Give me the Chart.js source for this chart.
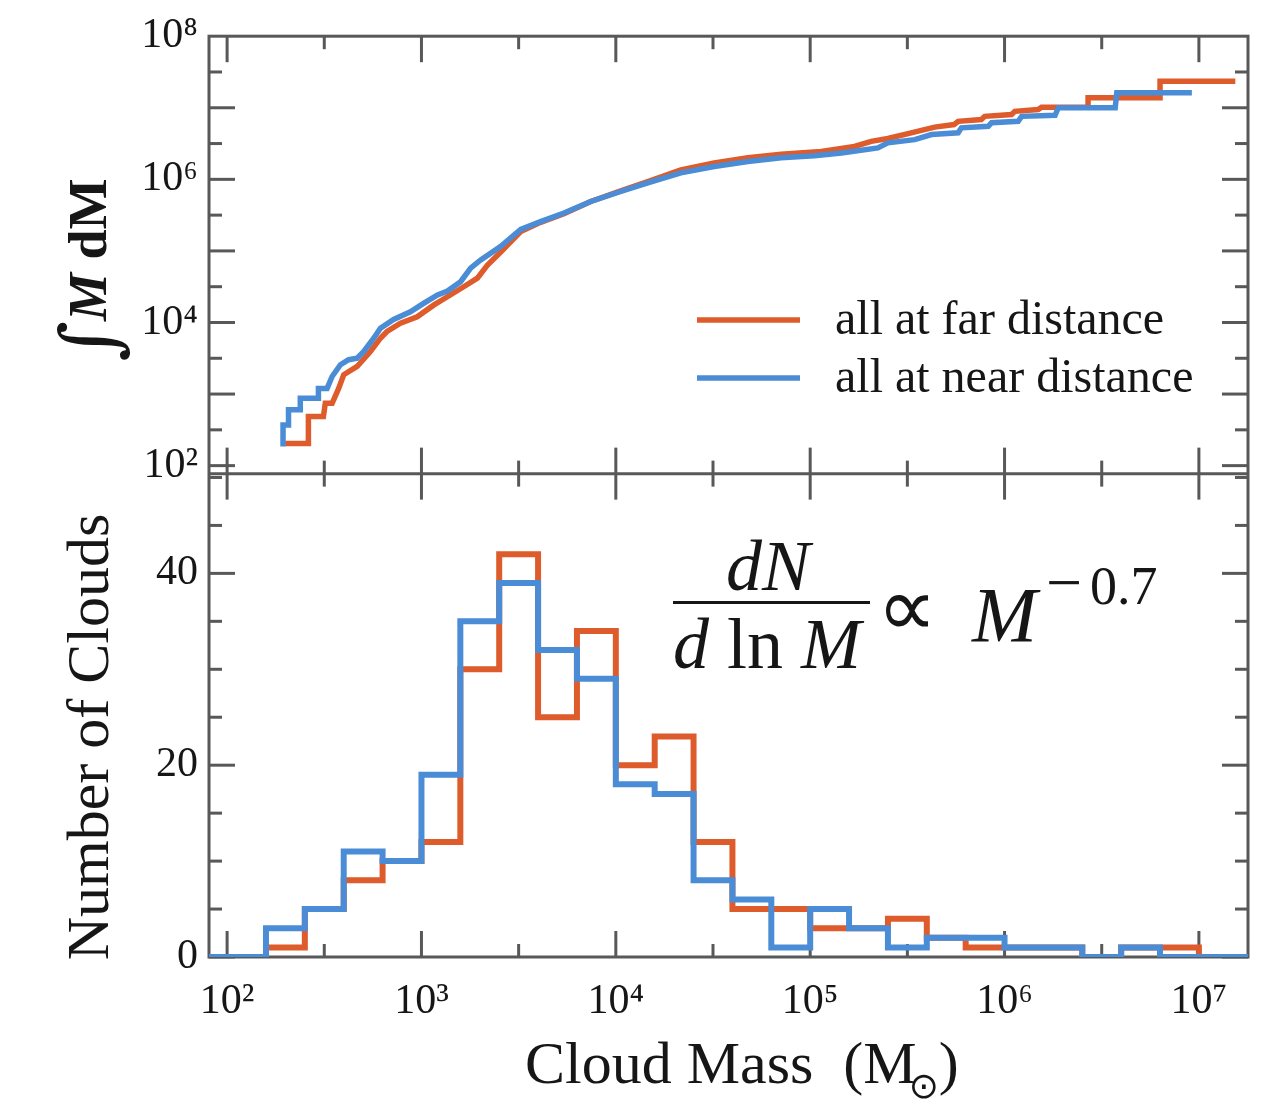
<!DOCTYPE html>
<html>
<head>
<meta charset="utf-8">
<script src="https://cdn.jsdelivr.net/npm/chart.js@4.4.0/dist/chart.umd.min.js"></script>
<style>
  html, body { margin: 0; padding: 0; background: #fff; }
  #grafico { display: block; }
</style>
</head>
<body>
<canvas id="grafico" width="1266" height="1099"></canvas>
<script>
const ctx = document.getElementById('grafico').getContext('2d');

// Curva acumulada (painel de cima) -----------------------------------------
// massa (M_sol) e integral acumulada

const nearMass = [194, 194, 207, 207, 238, 238, 295, 295, 327, 347, 383, 422, 467, 505, 568, 615,
  719, 877, 1030, 1210, 1360, 1590, 1790, 2010, 2550, 3240, 4100, 5410, 7430, 10600, 14600,
  21600, 32100, 47800, 71000, 105000, 145000, 223000, 251000, 345000, 421000, 577000, 600000,
  824000, 857000, 1175000, 1225000, 1820000, 1890000, 3710000, 3780000, 9200000]
const nearCum = [185, 371, 371, 603, 603, 871, 871, 1200, 1200, 1760, 2570, 3020, 3160, 3930, 6030, 8320,
  11000, 14100, 18600, 24300, 27500, 37200, 57500, 74100, 115000, 200000, 257000, 339000, 490000, 676000, 891000,
  1230000, 1510000, 1780000, 2000000, 2140000, 2340000, 2750000, 3240000, 3590000, 4220000, 4470000, 5250000,
  5500000, 6170000, 6460000, 7590000, 7850000, 10000000, 10000000, 16200000, 16200000]

const farMass = [199, 262, 262, 313, 320, 347, 375, 398, 467, 546, 615, 665, 780, 951, 1160, 1360,
  1650, 1940, 2180, 2550, 3240, 4100, 5410, 7430, 10600, 14600, 21600, 32100, 47800, 71000, 114000,
  169000, 206000, 251000, 331000, 437000, 550000, 577000, 759000, 791000, 1086000, 1130000, 1490000,
  1550000, 2690000, 2690000, 6310000, 6310000, 15400000]
const farCum = [204, 204, 484, 484, 741, 741, 1200, 1860, 2430, 3930, 6030, 7480, 9770, 12000, 17600, 22900,
  31600, 41700, 63100, 95500, 186000, 251000, 331000, 490000, 692000, 933000, 1350000, 1700000, 2000000, 2240000, 2450000,
  2880000, 3390000, 3720000, 4470000, 5370000, 5820000, 6460000, 6840000, 7590000, 8040000, 8910000, 9440000,
  10200000, 10200000, 13800000, 13800000, 23400000, 23400000]

// Histograma (painel de baixo) ---------------------------------------------
// bordas dos bins em log10(M), bins de 0.2 dex

const binLogEdges = [1.8, 2.0, 2.2, 2.4, 2.6, 2.8, 3.0, 3.2, 3.4, 3.6, 3.8, 4.0, 4.2, 4.4, 4.6,
  4.8, 5.0, 5.2, 5.4, 5.6, 5.8, 6.0, 6.2, 6.4, 6.6, 6.8, 7.0, 7.2, 7.4]
const nearCounts = [0, 0, 3, 5, 11, 10, 19, 35, 39, 32, 29, 18, 17, 8, 6, 1, 5, 3, 1, 2, 2, 1, 1, 0, 1, 0, 0, 0]
const farCounts  = [0, 0, 1, 5, 8, 10, 12, 30, 42, 25, 34, 20, 23, 12, 5, 5, 3, 3, 4, 2, 1, 1, 1, 0, 1, 1, 0, 0]

// Eixos ---------------------------------------------------------------------

const xMajor = [1e2, 1e3, 1e4, 1e5, 1e6, 1e7]
const xMinor = [10**2.5, 10**3.5, 10**4.5, 10**5.5, 10**6.5]
const yTopLabels = [1e2, 1e4, 1e6, 1e8]
const yTopMajor = [1e2, 1e3, 1e4, 1e5, 1e6, 1e7]
const yTopMinor = [10**2.5, 10**3.5, 10**4.5, 10**5.5, 10**6.5, 10**7.5]
const yBotLabels = [0, 20, 40]
const yBotMinor = [5, 10, 15, 25, 30, 35, 45, 50]

const laranja = '#DE5B2B'
const azul = '#4A8DD6'
const corEixo = '#585858'
const corTexto = '#161616'
const serif = '"Liberation Serif", "Times New Roman", serif'

const sup = {'2': '²', '3': '³', '4': '⁴', '5': '⁵', '6': '⁶', '7': '⁷', '8': '⁸'}
function potencia(v) {
  const e = Math.round(Math.log10(v)).toString()
  return '10' + sup[e]
}

function pontos(xs, ys) {
  return xs.map((x, i) => ({x: x, y: ys[i]}))
}

function degraus(counts) {
  const pts = counts.map((c, i) => ({x: 10 ** binLogEdges[i], y: c}))
  pts.push({x: 10 ** binLogEdges[binLogEdges.length - 1], y: counts[counts.length - 1]})
  return pts
}

// Moldura, ticks para dentro e textos ---------------------------------------

function linha(c, x1, y1, x2, y2) {
  c.beginPath(); c.moveTo(x1, y1); c.lineTo(x2, y2); c.stroke();
}

const moldura = {
  id: 'moldura',
  beforeDatasetsDraw(chart) {
    const c = chart.ctx
    const sx = chart.scales.x, yt = chart.scales.yTop, yb = chart.scales.yBot
    const L = sx.left, R = sx.right, T = yt.top, M = yt.bottom, B = yb.bottom
    const grande = 26, pequeno = 13
    c.save()
    c.strokeStyle = corEixo
    c.lineWidth = 3
    c.strokeRect(L, T, R - L, B - T)
    linha(c, L, M, R, M)

    const ticksX = xMajor.map(v => [v, grande]).concat(xMinor.map(v => [v, pequeno]))
    ticksX.forEach(([v, len]) => {
      const px = sx.getPixelForValue(v)
      linha(c, px, T, px, T + len)
      linha(c, px, M - len, px, M + len)
      linha(c, px, B, px, B - len)
    })
    const ticksTop = yTopMajor.map(v => [v, grande]).concat(yTopMinor.map(v => [v, pequeno]))
    ticksTop.forEach(([v, len]) => {
      const py = yt.getPixelForValue(v)
      linha(c, L, py, L + len, py)
      linha(c, R, py, R - len, py)
    })
    const ticksBot = yBotLabels.map(v => [v, grande]).concat(yBotMinor.map(v => [v, pequeno]))
    ticksBot.forEach(([v, len]) => {
      const py = yb.getPixelForValue(v)
      linha(c, L, py, L + len, py)
      linha(c, R, py, R - len, py)
    })
    c.restore()
  },
  afterDraw(chart) {
    const c = chart.ctx
    c.save()
    c.fillStyle = corTexto
    c.textBaseline = 'alphabetic'

    // legenda
    const itens = [[laranja, 'all at far distance', 320], [azul, 'all at near distance', 378]]
    itens.forEach(([cor, txt, y]) => {
      c.strokeStyle = cor
      c.lineWidth = 5.5
      linha(c, 697, y, 800, y)
      c.font = '48px ' + serif
      c.textAlign = 'left'
      c.fillText(txt, 835, y + 14)
    })

    // formula dN/dlnM ~ M^-0.7
    c.textAlign = 'center'
    c.font = 'italic 72px ' + serif
    c.fillText('dN', 768, 590)
    c.fillRect(673, 601, 197, 3)
    const partes = [['italic 72px ' + serif, 'd'], ['72px ' + serif, ' ln '], ['italic 72px ' + serif, 'M']]
    let larg = 0
    partes.forEach(([f, t]) => { c.font = f; larg += c.measureText(t).width })
    let px = 767 - larg / 2
    c.textAlign = 'left'
    partes.forEach(([f, t]) => { c.font = f; c.fillText(t, px, 668); px += c.measureText(t).width })
    c.font = '84px ' + serif
    c.textAlign = 'center'
    c.fillText('∝', 907, 636)
    c.textAlign = 'left'
    c.font = 'italic 78px ' + serif
    c.fillText('M', 972, 641)
    c.font = '64px ' + serif
    c.fillText('−', 1046, 604)
    c.font = '54px ' + serif
    c.fillText('0.7', 1090, 604)

    // titulo eixo x
    c.font = '60px ' + serif
    const t1 = 'Cloud Mass  (M'
    let x0 = 525
    c.fillText(t1, x0, 1083)
    x0 += c.measureText(t1).width
    c.font = '36px "DejaVu Sans"'
    c.fillText('⊙', x0 - 8, 1098)
    x0 += c.measureText('⊙').width - 8
    c.font = '60px ' + serif
    c.fillText(')', x0, 1083)

    // titulos eixo y
    c.save()
    c.translate(108, 737)
    c.rotate(-Math.PI / 2)
    c.textAlign = 'center'
    c.font = '60px ' + serif
    c.fillText('Number of Clouds', 0, 0)
    c.restore()

    c.save()
    c.translate(106, 270)
    c.rotate(-Math.PI / 2)
    c.textAlign = 'left'
    const tit = [['78px "DejaVu Serif"', '∫', 10], ['bold italic 54px ' + serif, 'M', 0], ['bold 54px ' + serif, ' dM', 0]]
    let w = 0
    tit.forEach(([f, t]) => { c.font = f; w += c.measureText(t).width })
    let u = -w / 2
    tit.forEach(([f, t, dy]) => { c.font = f; c.fillText(t, u, dy); u += c.measureText(t).width })
    c.restore()

    c.restore()
  }
}

// Grafico ---------------------------------------------------------------------

const fonteTicks = {family: serif, size: 42}

const data = {
  datasets: [
    {label: 'all at near distance', data: pontos(nearMass, nearCum), xAxisID: 'x', yAxisID: 'yTop',
      borderColor: azul, borderWidth: 5.5, pointRadius: 0, tension: 0, order: 0},
    {label: 'all at far distance', data: pontos(farMass, farCum), xAxisID: 'x', yAxisID: 'yTop',
      borderColor: laranja, borderWidth: 5.5, pointRadius: 0, tension: 0, order: 1},
    {label: 'near hist', data: degraus(nearCounts), xAxisID: 'x', yAxisID: 'yBot', stepped: 'before',
      borderColor: azul, borderWidth: 6, pointRadius: 0, borderJoinStyle: 'miter', order: 0},
    {label: 'far hist', data: degraus(farCounts), xAxisID: 'x', yAxisID: 'yBot', stepped: 'before',
      borderColor: laranja, borderWidth: 6, pointRadius: 0, borderJoinStyle: 'miter', order: 1}
  ]
}

const config = {
  type: 'line',
  data,
  options: {
    responsive: false,
    animation: false,
    devicePixelRatio: 1,
    layout: {padding: {top: 35, right: 18, left: 0, bottom: 0}},
    plugins: {legend: {display: false}, tooltip: {enabled: false}},
    scales: {
      x: {
        type: 'logarithmic',
        position: 'bottom',
        min: 80.7,
        max: 1.789e7,
        grid: {display: false, drawTicks: false},
        border: {display: false},
        afterBuildTicks: s => { s.ticks = xMajor.map(v => ({value: v})) },
        afterFit: s => { s.height = 142 },
        ticks: {callback: v => potencia(v), font: fonteTicks, color: corTexto, padding: 20,
          autoSkip: false, maxRotation: 0}
      },
      yTop: {
        type: 'logarithmic',
        position: 'left',
        stack: 'paineis',
        stackWeight: 438,
        weight: 2,
        min: 77.3,
        max: 1e8,
        grid: {display: false, drawTicks: false},
        border: {display: false},
        afterBuildTicks: s => { s.ticks = yTopLabels.map(v => ({value: v})) },
        afterFit: s => { s.width = 209 },
        ticks: {callback: v => potencia(v), font: fonteTicks, color: corTexto, padding: 11, autoSkip: false}
      },
      yBot: {
        type: 'linear',
        position: 'left',
        stack: 'paineis',
        stackWeight: 484,
        weight: 1,
        min: 0,
        max: 50.4,
        grid: {display: false, drawTicks: false},
        border: {display: false},
        afterBuildTicks: s => { s.ticks = yBotLabels.map(v => ({value: v})) },
        afterFit: s => { s.width = 209 },
        ticks: {font: fonteTicks, color: corTexto, padding: 11, autoSkip: false}
      }
    }
  },
  plugins: [moldura]
}

const grafico = new Chart(ctx, config)
</script>
</body>
</html>
